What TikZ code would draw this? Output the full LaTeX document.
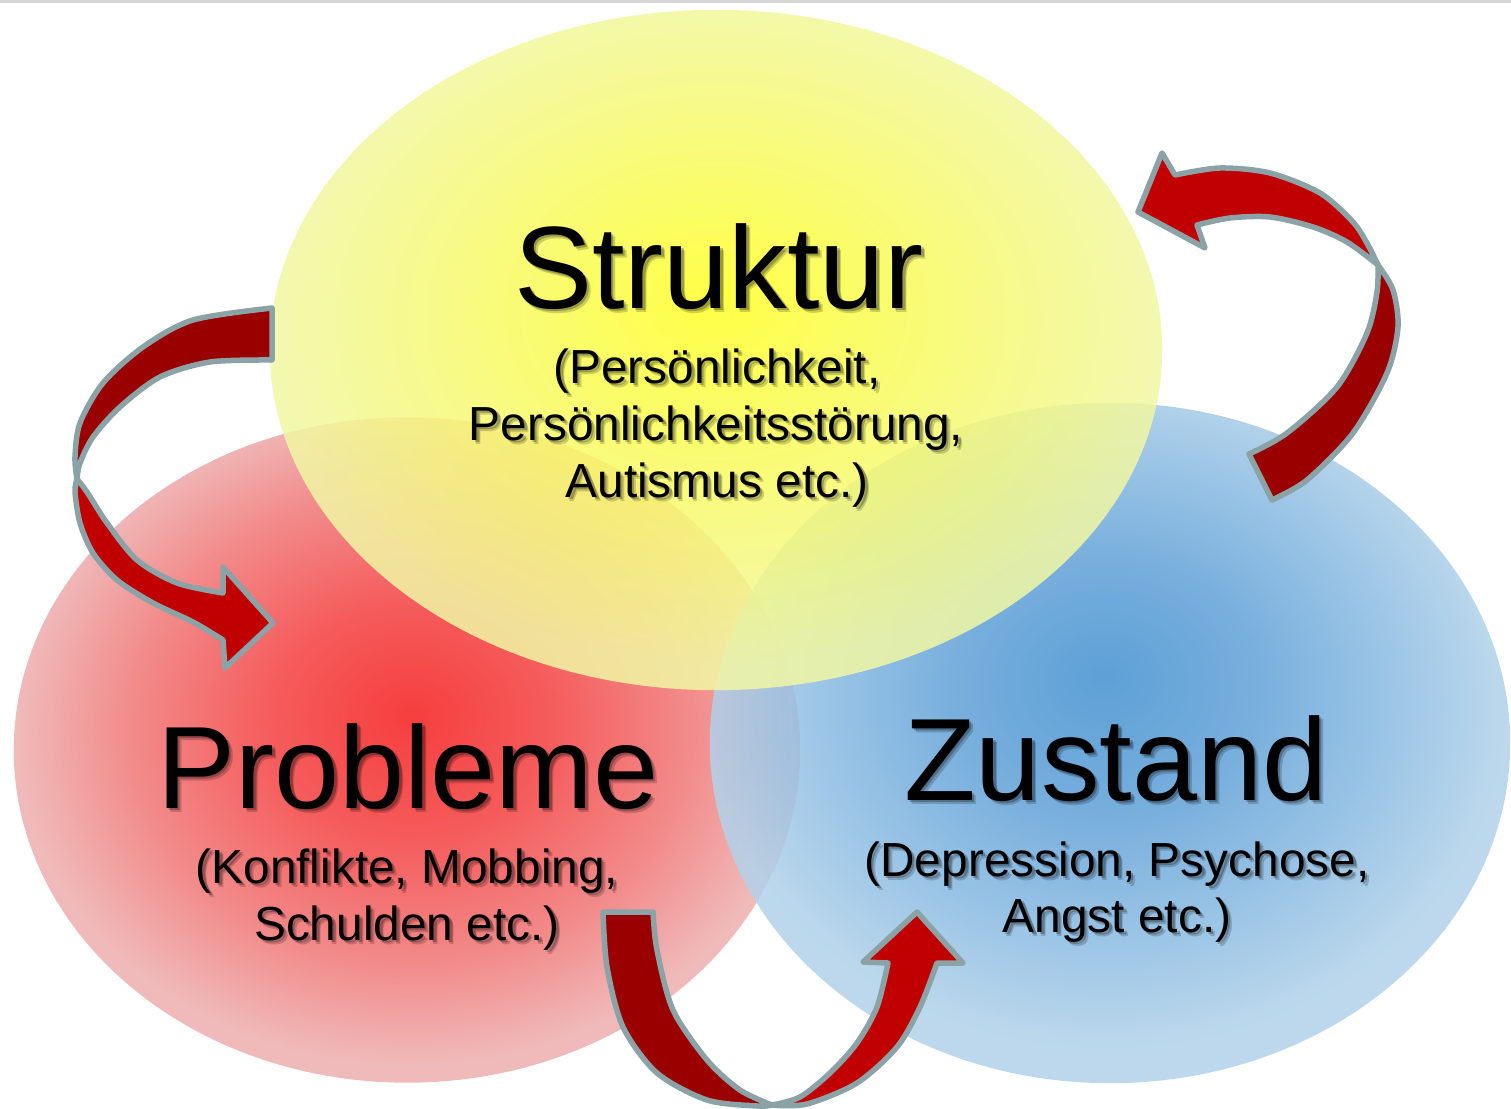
\documentclass[tikz,border=0pt]{standalone}
\usepackage{fontspec}
\setmainfont{Liberation Sans}
\usetikzlibrary{shapes.geometric}

\definecolor{ribbondark}{RGB}{155,0,0}
\definecolor{ribbonred}{RGB}{192,0,0}
\definecolor{ribbonedge}{RGB}{139,163,166}
\definecolor{redcore}{RGB}{246,62,62}
\definecolor{redmid}{RGB}{245,92,92}
\definecolor{redsoft}{RGB}{242,140,140}
\definecolor{redrim}{RGB}{240,186,186}
\definecolor{yellowcore}{RGB}{255,255,37}
\definecolor{yellowrim}{RGB}{241,247,164}
\definecolor{bluecore}{RGB}{66,144,208}
\definecolor{bluemid}{RGB}{95,160,215}
\definecolor{bluesoft}{RGB}{140,188,226}
\definecolor{bluerim}{RGB}{178,210,233}
\definecolor{topline}{RGB}{214,214,214}

% radial glows, brightest spot slightly above the centre
\pgfdeclareradialshading{redglow}{\pgfpoint{0.3bp}{2.6bp}}{color(0bp)=(redcore); color(9bp)=(redmid); color(18bp)=(redsoft); color(25bp)=(redrim); color(50bp)=(redrim)}
\pgfdeclareradialshading{yellowglow}{\pgfpoint{0bp}{3.7bp}}{color(0bp)=(yellowcore); color(25bp)=(yellowrim); color(50bp)=(yellowrim)}
\pgfdeclareradialshading{blueglow}{\pgfpoint{-0.4bp}{5bp}}{color(0bp)=(bluecore); color(9bp)=(bluemid); color(18bp)=(bluesoft); color(25bp)=(bluerim); color(50bp)=(bluerim)}

% text with a soft drop shadow
\newcommand\shadowlabel[4]{%
  \node[#3, text=black, opacity=0.18] (#1-far) at ([shift={(4,4)}]#2) {#4};
  \node[#3, text=black, opacity=0.25] (#1-near) at ([shift={(2.5,2.5)}]#2) {#4};
  \node[#3] (#1) at (#2) {#4};}

\begin{document}
\begin{tikzpicture}[x=0.01cm, y=-0.01cm,
  blob/.style={ellipse, inner sep=0pt, draw=none, shade},
  title/.style={font=\fontsize{33.3}{40}\selectfont, anchor=base, inner sep=0pt},
  detail/.style={font=\fontsize{13.6}{16.3}\selectfont, anchor=base, inner sep=0pt},
  ribbon/.style={draw=ribbonedge, line width=0.055cm, line join=round},
  ribbonback/.style={ribbon, fill=ribbondark},
  ribbonfront/.style={ribbon, fill=ribbonred}]

\useasboundingbox (0,0) rectangle (1511,1109);
\fill[white] (0,0) rectangle (1511,1109);
\fill[topline] (0,0) rectangle (1511,3);

% the three overlapping ellipses
\node[blob, shading=redglow, minimum width=7.86cm, minimum height=6.65cm] (probleme) at (407,750) {};
\node[blob, shading=blueglow, opacity=0.85, minimum width=8.0cm, minimum height=6.8cm] (zustand) at (1110,743) {};
\node[blob, shading=yellowglow, opacity=0.85, minimum width=8.92cm, minimum height=6.8cm] (struktur) at (716,350) {};

% curved arrow: Struktur -> Probleme
\path[ribbonback] (272,308) -- (272,360)
  -- plot[smooth] coordinates {(272,360) (210,362) (160,377) (120,407) (93,437) (80,463) (77,479)}
  -- plot[smooth] coordinates {(77,479) (75,457) (80,423) (103,383) (143,347) (193,320) (272,308)} -- cycle;
\path[ribbonfront] (77,479)
  -- plot[smooth] coordinates {(77,479) (75,492) (80,523) (93,553) (117,580) (153,603) (193,622) (223,640)}
  -- (225,668) -- (273,623) -- (223,567) -- (223,593)
  -- plot[smooth] coordinates {(223,593) (177,583) (137,560) (107,523) (87,492) (77,479)} -- cycle;

% curved arrow: Zustand -> Struktur
\path[ribbonback] (1249,454)
  -- plot[smooth] coordinates {(1249,454) (1287,433) (1337,387) (1367,333) (1377,292) (1378,265)}
  -- plot[smooth] coordinates {(1378,265) (1393,290) (1398,327) (1387,373) (1353,433) (1307,480) (1272,500)} -- cycle;
\path[ribbonfront] (1378,265)
  -- plot[smooth] coordinates {(1378,265) (1368,245) (1353,222) (1320,193) (1270,173) (1220,168) (1175,175)}
  -- (1162,153) -- (1138,212) -- (1205,248) -- (1197,225)
  -- plot[smooth] coordinates {(1197,225) (1230,218) (1270,217) (1313,227) (1347,242) (1378,265)} -- cycle;

% curved arrow: Probleme -> Zustand
\path[ribbonback] (603,912) -- (653,912)
  -- plot[smooth] coordinates {(653,912) (657,950) (673,1010) (707,1060) (740,1090) (772,1105)}
  -- plot[smooth] coordinates {(772,1105) (757,1106) (707,1100) (657,1073) (623,1027) (607,967) (603,912)} -- cycle;
\path[ribbonfront] (772,1105)
  -- plot[smooth] coordinates {(772,1105) (807,1104) (857,1083) (897,1047) (920,1007) (937,963)}
  -- (963,963) -- (917,912) -- (863,962) -- (888,963)
  -- plot[smooth] coordinates {(888,963) (877,1007) (857,1043) (830,1073) (800,1097) (772,1105)} -- cycle;

% labels
\shadowlabel{struktur-title}{719,308}{title}{Struktur}
\shadowlabel{struktur-a}{717,383}{detail}{(Persönlichkeit,}
\shadowlabel{struktur-b}{716,440}{detail}{Persönlichkeitsstörung,}
\shadowlabel{struktur-c}{717,497}{detail}{Autismus etc.)}

\shadowlabel{probleme-title}{408,808}{title}{Probleme}
\shadowlabel{probleme-a}{407,883}{detail}{(Konflikte, Mobbing,}
\shadowlabel{probleme-b}{407,940}{detail}{Schulden etc.)}

\shadowlabel{zustand-title}{1116,800}{title}{Zustand}
\shadowlabel{zustand-a}{1117,876}{detail}{(Depression, Psychose,}
\shadowlabel{zustand-b}{1117,932}{detail}{Angst etc.)}
\end{tikzpicture}
\end{document}
